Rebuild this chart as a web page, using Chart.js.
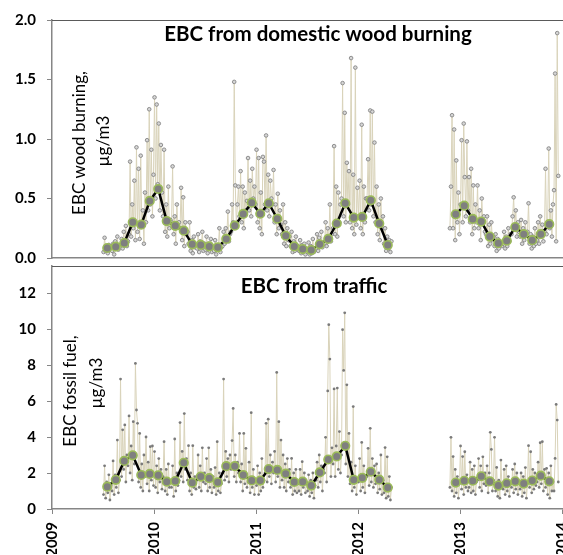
<!DOCTYPE html>
<html>
<head>
<meta charset="utf-8">
<script src="https://cdn.jsdelivr.net/npm/chart.js@4.4.1/dist/chart.umd.min.js"></script>
<style>
  html, body { margin: 0; padding: 0; background: #fff; overflow: hidden; width: 563px; height: 555px; }
  canvas { position: absolute; left: 0; }
  #wood { top: 0; }
  #traffic { top: 250px; }
</style>
</head>
<body>
<canvas id="wood" width="580" height="270"></canvas>
<canvas id="traffic" width="580" height="320"></canvas>
<script>
// months counted from Jan 2009; first data month is Jul 2009
const firstMonth = 6;
const yearTicks = [2009, 2010, 2011, 2012, 2013, 2014];

// monthly means, Jul 2009 .. Nov 2013 (null = no data)
const woodMonthly = [
  0.084, 0.095, 0.126, 0.30, 0.28, 0.48,
  0.58, 0.31, 0.27, 0.23, 0.115, 0.11, 0.097, 0.09, 0.16, 0.272, 0.37, 0.465,
  0.372, 0.46, 0.33, 0.187, 0.097, 0.075, 0.067, 0.115, 0.16, 0.29, 0.46, 0.34,
  0.345, 0.485, 0.29, 0.109, null, null, null, null, null, null, null, 0.367,
  0.44, 0.328, 0.306, 0.18, 0.124, 0.146, 0.26, 0.20, 0.15, 0.20, 0.284
];
const trafficMonthly = [
  1.24, 1.62, 2.67, 2.98, 1.89, 1.95,
  1.87, 1.52, 1.55, 2.57, 1.46, 1.80, 1.71, 1.48, 2.38, 2.38, 1.89, 1.59,
  1.58, 2.22, 2.17, 1.96, 1.50, 1.52, 1.30, 2.03, 2.75, 2.92, 3.51, 1.62,
  1.73, 2.07, 1.63, 1.19, null, null, null, null, null, null, null, 1.47,
  1.57, 1.57, 1.82, 1.53, 1.30, 1.43, 1.54, 1.41, 1.58, 1.85, 1.54
];

// daily-ish values, 8 readings per month, Jul 2009 .. Dec 2013
const woodDaily = [
  [0.05, 0.17, 0.06, 0.09, 0.04, 0.11, 0.07, 0.08], // 2009-07
  [0.06, 0.12, 0.03, 0.14, 0.08, 0.18, 0.07, 0.10],
  [0.09, 0.16, 0.08, 0.22, 0.11, 0.27, 0.10, 0.14],
  [0.20, 0.81, 0.18, 0.45, 0.25, 0.65, 0.15, 0.93],
  [0.22, 0.75, 0.16, 0.86, 0.28, 0.40, 0.12, 0.55],
  [0.30, 0.99, 0.40, 1.25, 0.45, 0.91, 0.35, 0.70],
  [1.35, 0.50, 1.29, 0.62, 1.13, 0.40, 0.95, 0.55], // 2010-01
  [0.35, 0.91, 0.22, 0.45, 0.18, 0.60, 0.25, 0.32],
  [0.30, 0.77, 0.20, 0.35, 0.12, 0.45, 0.28, 0.30],
  [0.25, 0.59, 0.15, 0.51, 0.10, 0.30, 0.20, 0.22],
  [0.12, 0.30, 0.06, 0.15, 0.04, 0.18, 0.09, 0.10],
  [0.08, 0.20, 0.05, 0.14, 0.10, 0.22, 0.06, 0.12],
  [0.07, 0.18, 0.04, 0.12, 0.08, 0.16, 0.05, 0.09],
  [0.06, 0.15, 0.03, 0.10, 0.08, 0.25, 0.05, 0.09],
  [0.10, 0.22, 0.12, 0.25, 0.18, 0.39, 0.14, 0.20],
  [0.22, 0.45, 0.30, 1.48, 0.61, 0.28, 0.45, 0.60],
  [0.35, 0.73, 0.30, 0.60, 0.25, 0.55, 0.40, 0.48],
  [0.84, 0.40, 0.65, 0.35, 0.75, 0.50, 0.60, 0.45],
  [0.91, 0.30, 0.84, 0.25, 0.55, 0.20, 0.85, 0.81], // 2011-01
  [0.45, 1.03, 0.40, 0.70, 0.35, 0.65, 0.50, 0.45],
  [0.74, 0.30, 0.45, 0.20, 0.54, 0.25, 0.40, 0.28],
  [0.20, 0.45, 0.12, 0.30, 0.10, 0.25, 0.15, 0.18],
  [0.10, 0.22, 0.05, 0.14, 0.06, 0.18, 0.08, 0.10],
  [0.06, 0.15, 0.04, 0.11, 0.05, 0.12, 0.03, 0.08],
  [0.05, 0.13, 0.03, 0.10, 0.04, 0.16, 0.05, 0.07],
  [0.08, 0.20, 0.06, 0.17, 0.10, 0.22, 0.09, 0.12],
  [0.12, 0.30, 0.10, 0.25, 0.15, 0.45, 0.14, 0.20],
  [0.25, 0.94, 0.20, 0.60, 0.18, 0.55, 0.30, 0.45],
  [0.50, 1.47, 0.35, 1.22, 0.30, 0.80, 0.45, 0.73],
  [0.30, 1.68, 0.25, 0.70, 0.20, 1.60, 0.28, 0.59],
  [0.35, 0.65, 0.25, 1.12, 0.20, 0.60, 0.30, 0.50], // 2012-01
  [0.50, 0.83, 0.40, 1.24, 0.45, 1.23, 0.35, 0.97],
  [0.30, 0.60, 0.20, 0.45, 0.15, 0.50, 0.25, 0.35],
  [0.12, 0.25, 0.06, 0.18, 0.08, 0.15, 0.05, 0.14],
  [null, null, null, null, null, null, null, null],
  [null, null, null, null, null, null, null, null],
  [null, null, null, null, null, null, null, null],
  [null, null, null, null, null, null, null, null],
  [null, null, null, null, null, null, null, null],
  [null, null, null, null, null, null, null, null],
  [null, null, null, null, null, null, 0.25, 0.60],
  [1.20, 0.25, 1.08, 0.15, 0.82, 0.30, 0.55, 0.20],
  [0.45, 0.99, 0.30, 1.13, 0.68, 0.35, 0.98, 0.40], // 2013-01
  [0.68, 0.30, 0.75, 0.20, 0.61, 0.25, 0.45, 0.30],
  [0.61, 0.25, 0.40, 0.15, 0.50, 0.30, 0.35, 0.22],
  [0.20, 0.35, 0.10, 0.28, 0.12, 0.30, 0.15, 0.18],
  [0.10, 0.20, 0.06, 0.16, 0.08, 0.14, 0.12, 0.10],
  [0.12, 0.22, 0.08, 0.18, 0.10, 0.25, 0.14, 0.20],
  [0.20, 0.35, 0.51, 0.25, 0.40, 0.18, 0.30, 0.22],
  [0.18, 0.32, 0.12, 0.25, 0.15, 0.30, 0.20, 0.22],
  [0.46, 0.12, 0.20, 0.08, 0.18, 0.10, 0.25, 0.12],
  [0.15, 0.30, 0.12, 0.35, 0.18, 0.28, 0.14, 0.22],
  [0.75, 0.20, 0.30, 0.92, 0.25, 0.40, 0.18, 0.45],
  [0.57, 1.55, 0.14, 1.89, 0.69, null, null, null]
];
const trafficDaily = [
  [0.8, 2.4, 0.6, 1.5, 0.9, 1.9, 0.5, 1.3], // 2009-07
  [1.0, 2.67, 0.8, 1.9, 1.2, 3.83, 0.9, 1.6],
  [7.22, 1.8, 4.4, 2.2, 4.67, 1.5, 3.0, 2.4],
  [5.17, 2.0, 3.5, 1.6, 4.85, 2.5, 8.09, 5.5],
  [4.76, 1.5, 4.2, 1.2, 2.5, 1.0, 3.0, 1.8],
  [4.0, 1.4, 2.6, 1.0, 3.46, 1.6, 3.5, 1.3],
  [3.19, 1.2, 2.4, 0.9, 2.8, 1.5, 2.2, 1.1], // 2010-01
  [1.8, 3.74, 1.0, 2.2, 0.8, 2.5, 1.2, 1.5],
  [1.2, 2.4, 0.7, 3.89, 1.0, 2.0, 1.3, 1.6],
  [4.8, 1.8, 3.2, 1.5, 5.3, 2.2, 2.8, 1.6],
  [3.52, 1.0, 2.0, 0.8, 3.52, 1.2, 1.8, 1.1],
  [1.6, 3.0, 1.2, 2.4, 1.0, 3.4, 1.5, 2.0],
  [1.4, 2.8, 1.0, 3.4, 1.2, 2.2, 0.9, 1.8],
  [1.2, 2.3, 0.8, 3.74, 1.0, 2.0, 0.9, 1.4],
  [2.0, 7.22, 1.6, 3.2, 1.8, 2.8, 1.5, 3.0],
  [2.2, 3.8, 5.59, 1.8, 3.0, 1.5, 2.6, 2.0],
  [4.2, 1.5, 2.5, 1.0, 4.2, 1.4, 3.37, 1.2],
  [1.5, 2.6, 0.9, 5.35, 1.2, 2.2, 0.8, 1.6],
  [1.3, 2.4, 0.8, 2.0, 1.0, 2.8, 1.2, 1.6], // 2011-01
  [2.0, 4.76, 1.5, 4.99, 1.8, 3.0, 1.4, 2.6],
  [2.0, 3.2, 1.5, 7.59, 1.8, 4.85, 1.2, 3.83],
  [1.6, 3.0, 1.2, 2.5, 1.0, 2.8, 1.5, 2.2],
  [1.2, 2.81, 0.8, 2.0, 1.0, 2.2, 0.9, 1.4],
  [1.0, 2.2, 0.8, 2.63, 1.2, 2.0, 0.9, 1.5],
  [1.0, 1.9, 0.7, 1.6, 0.9, 2.0, 0.6, 1.3],
  [1.6, 2.6, 1.2, 3.0, 1.5, 2.4, 1.0, 2.2],
  [2.0, 3.98, 1.5, 6.56, 10.24, 8.33, 1.8, 3.4],
  [2.5, 6.67, 1.8, 3.5, 6.72, 2.2, 4.3, 2.0],
  [3.0, 9.96, 7.7, 10.9, 2.5, 6.9, 1.8, 4.2],
  [1.4, 2.6, 1.0, 5.69, 1.2, 2.4, 0.8, 1.6],
  [1.5, 2.8, 1.0, 3.7, 1.2, 2.4, 0.9, 1.8], // 2012-01
  [1.8, 3.37, 1.3, 4.48, 1.5, 2.8, 1.2, 2.4],
  [1.4, 2.5, 0.9, 2.0, 1.1, 3.0, 0.8, 1.6],
  [0.9, 3.41, 0.6, 2.9, 0.7, 1.8, 0.5, 1.2],
  [null, null, null, null, null, null, null, null],
  [null, null, null, null, null, null, null, null],
  [null, null, null, null, null, null, null, null],
  [null, null, null, null, null, null, null, null],
  [null, null, null, null, null, null, null, null],
  [null, null, null, null, null, null, null, null],
  [null, null, null, null, null, null, 1.2, 3.98],
  [1.0, 2.91, 0.7, 2.2, 0.9, 1.8, 0.6, 1.4],
  [3.5, 1.1, 2.91, 0.8, 3.18, 1.2, 1.9, 1.0], // 2013-01
  [1.2, 2.6, 0.9, 2.2, 1.0, 2.4, 0.8, 1.5],
  [1.6, 2.8, 1.2, 2.4, 1.0, 2.9, 1.4, 2.0],
  [1.3, 2.4, 0.9, 2.0, 4.26, 3.31, 1.0, 1.6],
  [3.98, 1.0, 2.31, 0.7, 1.6, 0.6, 2.72, 1.2],
  [1.1, 2.2, 0.8, 2.4, 1.0, 1.8, 0.7, 1.4],
  [1.2, 2.2, 0.9, 2.5, 1.1, 2.0, 0.8, 1.5],
  [1.1, 2.0, 0.7, 1.8, 0.9, 2.3, 0.6, 1.4],
  [3.52, 1.2, 3.18, 0.9, 2.2, 1.1, 2.0, 1.3],
  [1.5, 2.6, 1.2, 3.68, 1.4, 3.74, 1.0, 2.2],
  [1.2, 2.26, 0.8, 2.0, 0.6, 2.4, 1.0, 1.5],
  [1.0, 2.81, 5.81, 4.94, 1.5, null, null, null]
];

function dailyPoints(rows) {
  let pts = [];
  rows.forEach((row, i) => {
    row.forEach((v, k) => {
      pts.push({ x: 2009 + (firstMonth + i + (k + 0.5) / row.length) / 12, y: v });
    });
  });
  return pts;
}

function monthlyPoints(vals) {
  return vals.map((v, i) => ({ x: 2009 + (firstMonth + i + 0.5) / 12, y: v }));
}

// title, box top line and in-plot axis captions
const panelText = {
  id: 'panelText',
  afterDraw(chart, args, opts) {
    const ctx = chart.ctx;
    const a = chart.chartArea;
    ctx.save();
    ctx.strokeStyle = '#5a5a5a';
    ctx.lineWidth = 1;
    ctx.beginPath();
    ctx.moveTo(a.left, a.top + 0.5);
    ctx.lineTo(chart.width, a.top + 0.5);
    ctx.stroke();

    ctx.fillStyle = '#000';
    ctx.textAlign = 'center';
    ctx.textBaseline = 'alphabetic';
    ctx.font = 'bold 20.5px Lato';
    ctx.fillText(opts.title, opts.titleX, opts.titleY);

    ctx.font = '17px Lato';
    ctx.textBaseline = 'middle';
    opts.caption.forEach(l => {
      ctx.save();
      ctx.translate(l.x, l.y);
      ctx.rotate(-Math.PI / 2);
      ctx.fillText(l.text, 0, 0);
      ctx.restore();
    });
    ctx.restore();
  }
};

const tickFont = { family: 'Lato', size: 15, weight: 'bold' };

function makeChart(id, daily, monthly, yMax, yStep, showYears, pad, text, dots) {
  return new Chart(document.getElementById(id), {
    type: 'line',
    data: {
      datasets: [
        {
          data: monthlyPoints(monthly),
          borderColor: '#000',
          borderWidth: 2.5,
          pointRadius: 4.3,
          pointBorderWidth: 1.6,
          pointBorderColor: '#9bbb59',
          pointBackgroundColor: '#7f7f7f',
          spanGaps: false,
          order: 0
        },
        {
          data: dailyPoints(daily),
          borderColor: 'rgb(217,211,186)',
          borderWidth: 1,
          pointRadius: dots.r,
          pointBorderWidth: dots.bw,
          pointBorderColor: '#858585',
          pointBackgroundColor: dots.fill,
          spanGaps: false,
          order: 1
        }
      ]
    },
    options: {
      responsive: false,
      animation: false,
      devicePixelRatio: 1,
      layout: { padding: pad },
      plugins: {
        legend: { display: false },
        tooltip: { enabled: false },
        panelText: text
      },
      scales: {
        x: {
          type: 'linear',
          min: 2009,
          max: 2014,
          afterBuildTicks: s => { s.ticks = yearTicks.map(v => ({ value: v })); },
          afterFit: s => {
            s.paddingLeft = 0;
            s.paddingRight = 0;
            s.height = showYears ? 45 : 0;
          },
          border: { color: '#868686', width: 1.5 },
          grid: { display: showYears, drawOnChartArea: false, tickLength: 5, color: '#868686' },
          ticks: {
            display: showYears,
            minRotation: 90,
            maxRotation: 90,
            padding: 8,
            color: '#000',
            font: tickFont,
            callback: v => String(v)
          }
        },
        y: {
          min: 0,
          max: yMax,
          afterBuildTicks: s => { s.ticks = s.ticks.filter(t => t.value <= yMax - (yMax % yStep)); },
          afterFit: s => {
            s.width = 52;
            s.paddingTop = 0;
            s.paddingBottom = 0;
          },
          border: { color: '#868686', width: 1.5 },
          grid: { drawOnChartArea: false, tickLength: 5, color: '#868686' },
          ticks: {
            stepSize: yStep,
            padding: 11,
            color: '#000',
            font: tickFont,
            callback: v => yStep < 1 ? v.toFixed(1) : String(v)
          }
        }
      }
    },
    plugins: [panelText]
  });
}

makeChart('wood', woodDaily, woodMonthly, 2, 0.5, false,
  { top: 20, bottom: 12, left: 0, right: 18 },
  {
    title: 'EBC from domestic wood burning', titleX: 318, titleY: 41,
    caption: [
      { text: 'EBC wood burning,', x: 80, y: 143 },
      { text: 'µg/m3', x: 104, y: 141 }
    ]
  },
  { r: 1.8, bw: 0.9, fill: '#d6d6d6' });

makeChart('traffic', trafficDaily, trafficMonthly, 13.5, 2, true,
  { top: 16, bottom: 16, left: 0, right: 18 },
  {
    title: 'EBC from traffic', titleX: 314, titleY: 43,
    caption: [
      { text: 'EBC fossil fuel,', x: 71, y: 141 },
      { text: 'µg/m3', x: 97, y: 133 }
    ]
  },
  { r: 1.4, bw: 0, fill: '#7a7a7a' });
</script>
</body>
</html>
